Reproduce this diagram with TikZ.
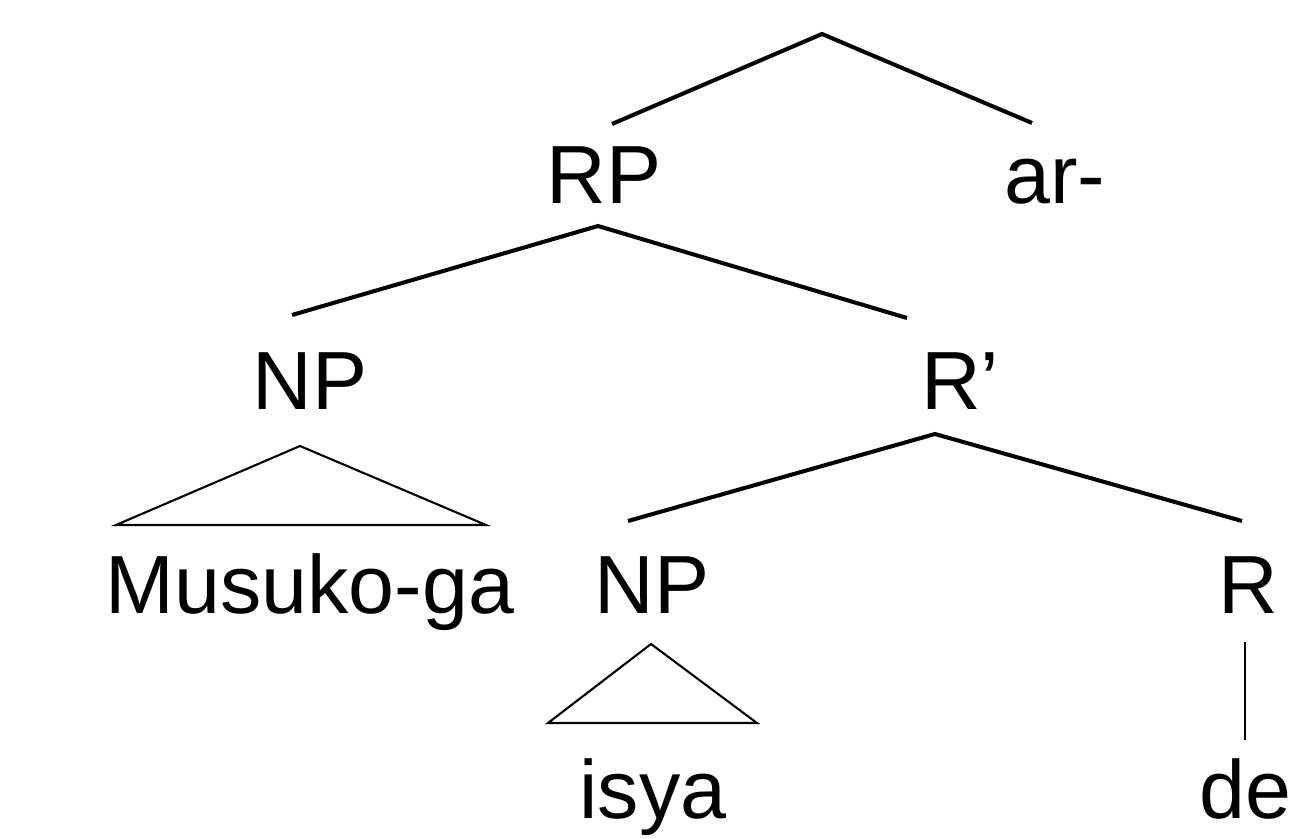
\documentclass[tikz,border=0pt]{standalone}
\usepackage{fontspec}
\setmainfont{Liberation Sans}
\begin{document}
\begin{tikzpicture}[x=0.02cm,y=-0.02cm,
  lab/.style={anchor=base,inner sep=0pt,font=\fontsize{47}{50}\selectfont},
  branch/.style={line width=2.3pt},
  tri/.style={line width=1.2pt,line join=miter}]
\useasboundingbox (0,0) rectangle (1293,838);
% labels
\node[lab] (rp) at (604,203) {RP};
\node[lab] (ar) at (1055,203) {ar-};
\node[lab] (np1) at (310,409) {NP};
\node[lab] (rbar) at (960,409) {R'};
\node[lab] (musuko) at (310,613) {Musuko-ga};
\node[lab] (np2) at (652,613) {NP};
\node[lab] (r) at (1248,613) {R};
\node[lab] (isya) at (653,818) {isya};
\node[lab] (de) at (1245,818) {de};
% branching points
\coordinate (top) at (822,34);
\coordinate (topL) at (612,124);
\coordinate (topR) at (1032,123);
\coordinate (rpA) at (598,226);
\coordinate (rpL) at (292,315);
\coordinate (rpR) at (907,318);
\coordinate (rbA) at (935,434);
\coordinate (rbL) at (628,521);
\coordinate (rbR) at (1242,521);
\coordinate (npA) at (300,446);
\coordinate (npBL) at (116,525);
\coordinate (npBR) at (486,525);
\coordinate (isA) at (651,644);
\coordinate (isBL) at (548,723);
\coordinate (isBR) at (757,723);
\coordinate (rT) at (1245,642);
\coordinate (rB) at (1245,740);
% branches
\draw[branch] (topL) -- (top) -- (topR);
\draw[branch] (rpL) -- (rpA) -- (rpR);
\draw[branch] (rbL) -- (rbA) -- (rbR);
\draw[tri] (npA) -- (npBR) -- (npBL) -- cycle;
\draw[tri] (isA) -- (isBR) -- (isBL) -- cycle;
\draw[line width=1.5pt] (rT) -- (rB);
\end{tikzpicture}
\end{document}
